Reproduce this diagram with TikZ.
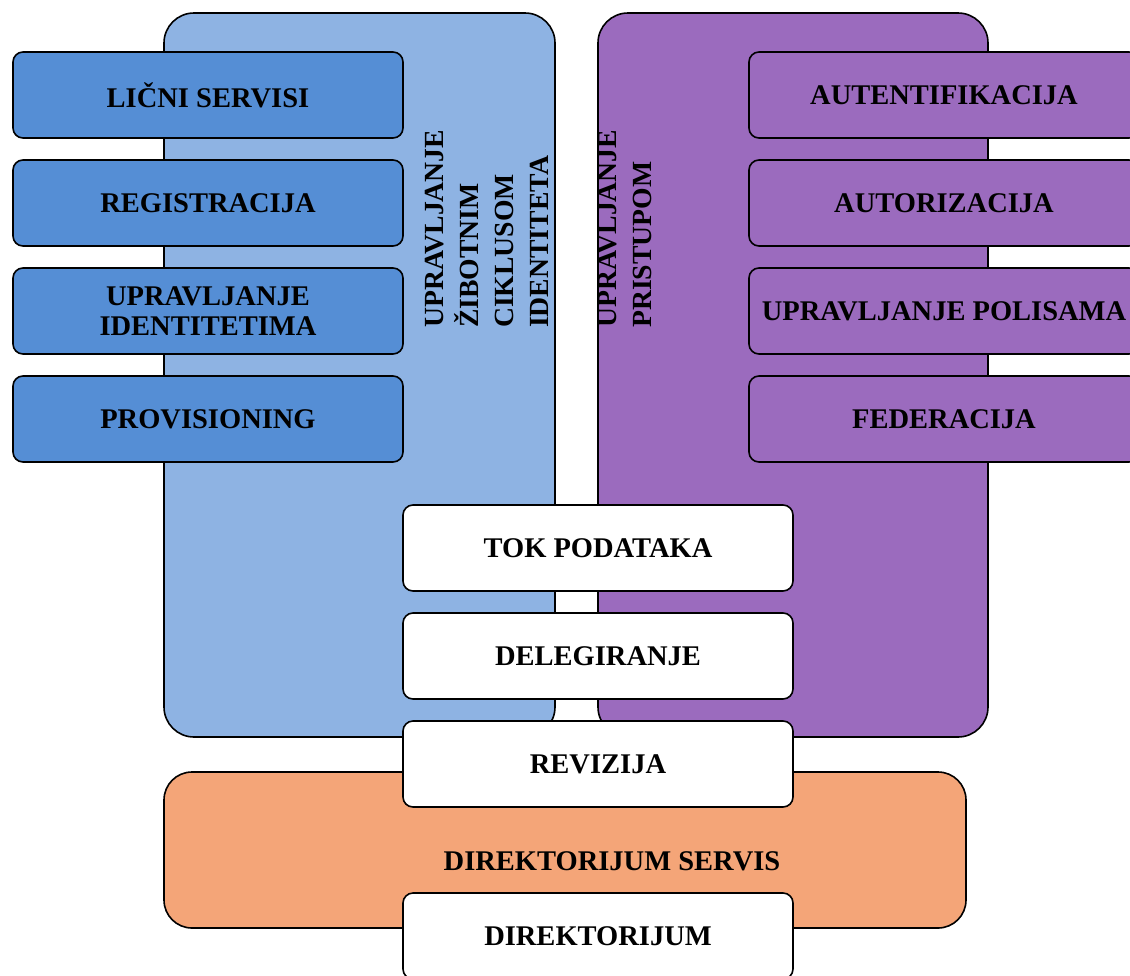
\documentclass[tikz,border=0pt]{standalone}
\usepackage{fontspec}
\setmainfont{Liberation Serif}
\definecolor{panelblue}{RGB}{142,179,227}
\definecolor{boxblue}{RGB}{85,142,213}
\definecolor{panelpurple}{RGB}{155,107,190}
\definecolor{panelorange}{RGB}{244,165,120}
\tikzset{
  panel/.style={draw=black, line width=1.6pt, rounded corners=30pt, inner sep=0pt},
  itembox/.style={draw=black, line width=1.6pt, rounded corners=10pt, inner sep=0pt,
    minimum width=390pt, minimum height=86pt, align=center,
    font=\fontsize{28.5}{30}\selectfont\bfseries},
  sidetitle/.style={rotate=90, anchor=north west, inner sep=0pt, align=left,
    font=\fontsize{27.7}{35}\selectfont\bfseries},
}
\begin{document}
\begin{tikzpicture}[x=1pt, y=-1pt]
\useasboundingbox (0,0) rectangle (1130,975);

% large background panels
\node[panel, fill=panelblue, minimum width=391pt, minimum height=724pt] (life) at (359.5,375) {};
\node[panel, fill=panelpurple, minimum width=390pt, minimum height=724pt] (access) at (793,375) {};
\node[panel, rounded corners=28pt, fill=panelorange, minimum width=802pt, minimum height=156pt] (dirsrv) at (565,850) {};

% panel titles
\node[sidetitle] (lifetitle) at (425,328) {UPRAVLJANJE\\ŽIBOTNIM\\CIKLUSOM\\IDENTITETA};
\node[sidetitle] (accesstitle) at (598,328) {UPRAVLJANJE\\PRISTUPOM};
\node[inner sep=0pt, font=\fontsize{28.5}{30}\selectfont\bfseries] (dirsrvtitle) at (612,861) {DIREKTORIJUM SERVIS};

% identity lifecycle items
\node[itembox, fill=boxblue] (licni) at (208,95) {LIČNI SERVISI};
\node[itembox, fill=boxblue] (reg) at (208,203) {REGISTRACIJA};
\node[itembox, fill=boxblue] (upid) at (208,311) {UPRAVLJANJE\\IDENTITETIMA};
\node[itembox, fill=boxblue] (prov) at (208,419) {PROVISIONING};

% access management items
\node[itembox, fill=panelpurple] (auth) at (944,95) {AUTENTIFIKACIJA};
\node[itembox, fill=panelpurple] (autz) at (944,203) {AUTORIZACIJA};
\node[itembox, fill=panelpurple] (pol) at (944,311) {UPRAVLJANJE POLISAMA};
\node[itembox, fill=panelpurple] (fed) at (944,419) {FEDERACIJA};

% shared items
\node[itembox, fill=white] (tok) at (598,548) {TOK PODATAKA};
\node[itembox, fill=white] (deleg) at (598,656) {DELEGIRANJE};
\node[itembox, fill=white] (rev) at (598,764) {REVIZIJA};
\node[itembox, fill=white] (dir) at (598,936) {DIREKTORIJUM};
\end{tikzpicture}
\end{document}
